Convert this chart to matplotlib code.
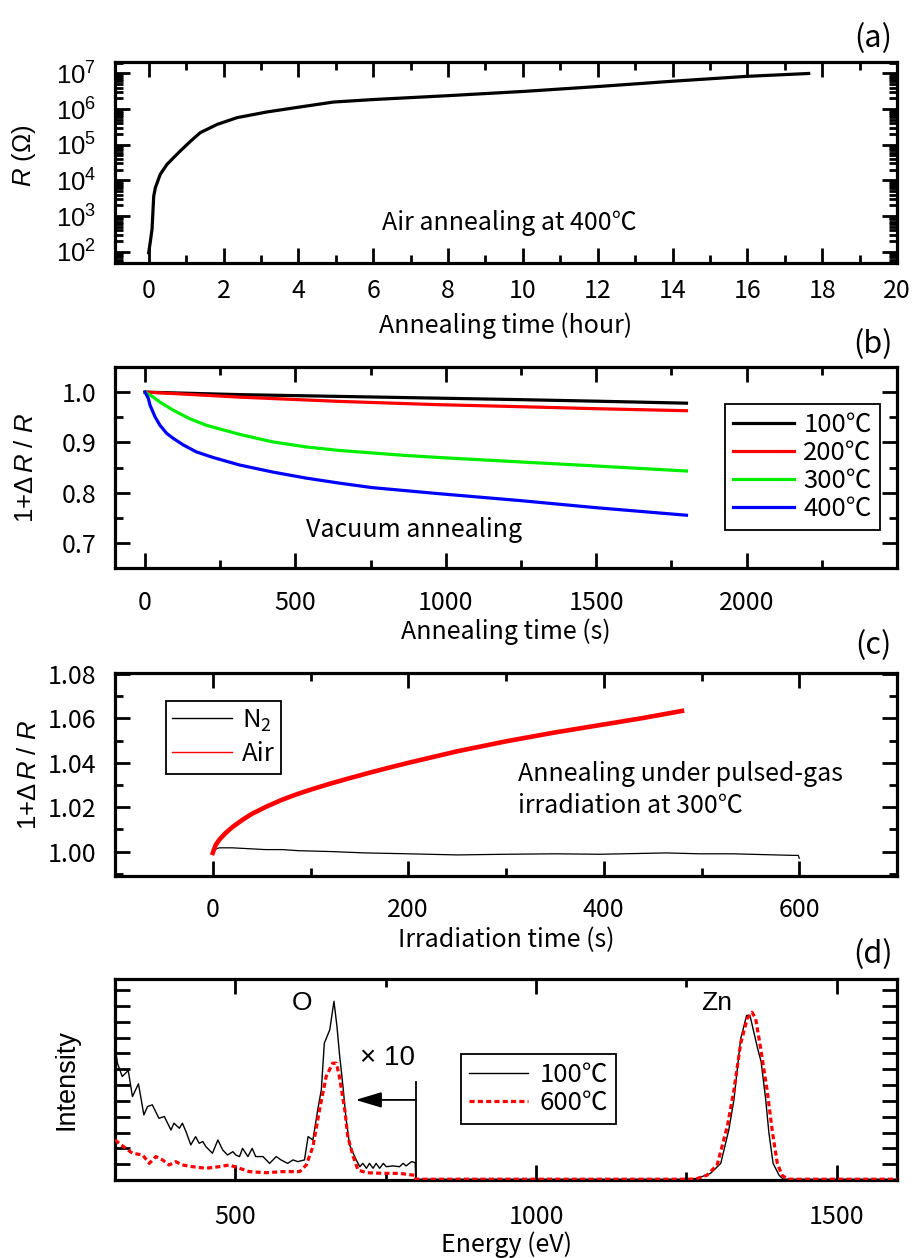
import math
import matplotlib
matplotlib.use('Agg')
import matplotlib.pyplot as plt
from matplotlib.ticker import MultipleLocator, FixedLocator, FuncFormatter, NullFormatter, LogLocator
from matplotlib.lines import Line2D

plt.rcParams['font.family'] = ['Noto Sans CJK JP', 'DejaVu Sans']
plt.rcParams['mathtext.fontset'] = 'custom'
plt.rcParams['mathtext.rm'] = 'Liberation Sans'
plt.rcParams['mathtext.it'] = 'Liberation Sans:italic'
plt.rcParams['mathtext.bf'] = 'Liberation Sans:bold'
plt.rcParams['axes.unicode_minus'] = False

# ---------------- data ----------------
# (a) air annealing at 400 C
a_hours = [0.0, 0.04, 0.09, 0.135, 0.18, 0.31, 0.49, 0.8, 1.12, 1.38, 1.83, 2.36,
           3.16, 4.05, 4.94, 6.02, 8.05, 10.07, 12.1, 13.97, 16.0, 17.64]
a_resistance = [93, 178, 427, 3630, 6310, 14800, 28200, 60300, 126000, 219000,
                372000, 575000, 832000, 1150000, 1580000, 1860000, 2400000,
                3160000, 4370000, 6030000, 8320000, 1.0e7]

# (b) vacuum annealing
b_t_100C = [0, 314, 644.6, 975, 1250, 1500, 1800]
b_100C = [1.0, 0.995, 0.9915, 0.988, 0.985, 0.982, 0.978]
b_t_200C = [0, 100, 314, 644.6, 975, 1250, 1500, 1800]
b_200C = [1.0, 0.997, 0.990, 0.9816, 0.975, 0.971, 0.967, 0.963]
b_t_300C = [0, 27.5, 49.6, 93.7, 148.8, 204, 314, 424, 534.5, 644.6, 754.7, 865,
            975, 1250, 1500, 1800]
b_300C = [1.0, 0.990, 0.980, 0.964, 0.947, 0.934, 0.916, 0.901, 0.891, 0.884,
          0.879, 0.874, 0.870, 0.861, 0.853, 0.843]
b_t_400C = [0, 11, 16.5, 33, 49.6, 71.7, 93.7, 126.7, 170.8, 225.8, 314, 424,
            534.5, 644.6, 754.7, 865, 975, 1250, 1500, 1800]
b_400C = [1.0, 0.987, 0.974, 0.951, 0.934, 0.918, 0.908, 0.895, 0.881, 0.870,
          0.855, 0.841, 0.829, 0.819, 0.810, 0.804, 0.798, 0.784, 0.770, 0.755]
b_labels = ['100℃', '200℃', '300℃', '400℃']
b_colors = ['#000000', '#ff0000', '#00ee00', '#0000ff']

# (c) pulsed-gas irradiation at 300 C
c_air_time = [0, 3, 7, 13, 20, 30, 40, 55, 70, 85, 100, 120, 140, 160, 180, 200,
              250, 300, 350, 400, 440, 480]
c_air = [0.9994, 1.0030, 1.0055, 1.0083, 1.0110, 1.0142, 1.0170, 1.0203, 1.0232,
         1.0257, 1.0279, 1.0306, 1.0331, 1.0355, 1.0378, 1.0400, 1.0452, 1.0497,
         1.0537, 1.0573, 1.0602, 1.0634]
c_n2_time = [0, 3.3, 6.7, 20, 37, 54, 71, 88, 105, 122, 139, 156, 190, 250, 300,
             350, 396, 430, 464, 498, 532, 567, 594, 599, 600]
c_n2 = [0.9994, 1.0012, 1.0017, 1.0017, 1.0013, 1.0009, 1.0009, 1.0004, 1.0002,
        1.0, 0.9997, 0.9994, 0.9991, 0.9985, 0.9988, 0.999, 0.9988, 0.9991,
        0.9994, 0.999, 0.999, 0.9986, 0.9983, 0.9983, 0.997]

# (d) spectra (below 800 eV magnified x10)
d_E_100 = [300, 304, 312, 322, 329, 339, 348, 354, 362, 373, 382, 393, 398, 407,
           412, 418, 426, 434, 440, 446, 451, 462, 471, 479, 487, 496, 501, 507,
           512, 521, 528, 534, 546, 557, 568, 576, 587, 596, 604, 615, 621, 629,
           637, 643, 648, 657, 664, 669, 673, 679, 684, 690, 696, 701, 707, 712,
           718, 723, 729, 734, 740, 746, 751, 762, 773, 779, 784, 793, 799,
           800, 1250, 1268, 1290, 1307, 1320.6, 1329, 1340, 1350, 1355.6, 1361,
           1369, 1374, 1381.7, 1387, 1394, 1404, 1411, 1430, 1600]
d_I_100 = [8.44, 7.38, 6.54, 6.92, 5.27, 6.08, 4.11, 4.64, 4.75, 3.90, 4.01, 3.16,
           3.59, 3.27, 3.59, 3.06, 2.22, 2.74, 2.32, 2.43, 2.11, 1.69, 2.53, 1.90,
           1.58, 1.79, 1.58, 1.48, 2.00, 1.48, 2.00, 1.48, 1.48, 1.05, 1.48, 1.27,
           1.05, 1.27, 1.16, 1.27, 2.74, 2.53, 4.43, 5.70, 8.65, 9.49, 11.29, 9.70,
           8.02, 5.91, 3.90, 2.22, 1.69, 1.27, 0.84, 1.05, 0.74, 1.05, 0.74, 1.05,
           0.74, 1.05, 0.84, 0.89, 0.84, 1.05, 0.89, 1.16, 1.10,
           0.05, 0.05, 0.1, 0.42, 1.05, 3.2, 5.1, 8.9, 10.4, 10.4, 9.5, 8.2, 7.5,
           5.1, 3.0, 1.05, 0.3, 0.05, 0.05, 0.05]
d_E_600 = [300, 307, 318, 329, 346, 357, 368, 379, 390, 401, 412, 429, 451, 473,
           490, 507, 523, 551, 579, 607, 618, 629, 640, 651, 662, 668, 673, 682,
           687, 696, 704, 718, 746, 773, 793, 799,
           800, 1250, 1265, 1284, 1301, 1318, 1329, 1340, 1351, 1359, 1365, 1373,
           1384, 1393, 1401, 1409, 1418, 1600]
d_I_600 = [2.53, 2.32, 2.00, 1.69, 1.58, 1.05, 1.48, 1.27, 0.95, 1.16, 0.95, 0.84,
           0.74, 0.84, 0.95, 0.74, 0.53, 0.46, 0.53, 0.53, 0.95, 2.11, 4.43, 6.54,
           7.38, 7.38, 6.54, 4.43, 2.74, 1.48, 0.63, 0.46, 0.42, 0.42, 0.32, 0.3,
           0.05, 0.05, 0.06, 0.3, 0.95, 3.4, 5.7, 8.6, 10.2, 10.6, 10.2, 8.4, 5.7,
           3.0, 1.05, 0.3, 0.05, 0.05]
d_labels = ['100℃', '600℃']
d_mag_edge = 800      # energy where x10 magnification ends
d_mag_top = 6.2
d_arrow_y = 5.06
d_arrow_tip = 700

# ---------------- figure ----------------
W, H = 913, 1258
fig = plt.figure(figsize=(W / 100, H / 100), dpi=100)


def add_ax(top, bottom, left=115, right=897):
    return fig.add_axes([left / W, 1 - bottom / H, (right - left) / W, (bottom - top) / H])


ax_a = add_ax(62, 263)
ax_b = add_ax(367, 568)
ax_c = add_ax(673, 876)
ax_d = add_ax(979, 1180)

FS = 18
SANS = ['Liberation Sans', 'DejaVu Sans']

for ax in (ax_a, ax_b, ax_c, ax_d):
    for s in ax.spines.values():
        s.set_linewidth(2.3)
    ax.tick_params(which='both', direction='in', top=True, right=True, width=2.0,
                   labelsize=FS)
    ax.tick_params(which='major', length=11)
    ax.tick_params(which='minor', length=5.5)
    ax.tick_params(axis='y', pad=13.5)


def set_xlabel(ax, text, y_px_below, height_px):
    ax.set_xlabel(text, fontsize=FS)
    ax.xaxis.set_label_coords(0.5, -y_px_below / height_px)
    ax.xaxis.label.set_va('center')


def set_ylabel(ax, text, x_px, y_frac=0.5, **kw):
    ax.set_ylabel(text, **kw)
    ax.yaxis.set_label_coords((x_px - 115) / 782, y_frac)
    ax.yaxis.label.set_va('center')
    ax.yaxis.label.set_ha('center')


# (a)
ax_a.plot(a_hours, a_resistance, color='k', lw=2.3)
ax_a.set_yscale('log')
ax_a.set_xlim(-0.9, 20)
ax_a.set_ylim(48, 2.1e7)
ax_a.xaxis.set_major_locator(MultipleLocator(2))
ax_a.xaxis.set_minor_locator(MultipleLocator(1))
ax_a.yaxis.set_major_locator(FixedLocator([1e2, 1e3, 1e4, 1e5, 1e6, 1e7]))
ax_a.yaxis.set_major_formatter(FuncFormatter(
    lambda v, p: r'$\mathregular{10^{%d}}$' % round(math.log10(v))))
ax_a.yaxis.set_minor_locator(LogLocator(base=10, subs=range(2, 10), numticks=20))
ax_a.yaxis.set_minor_formatter(NullFormatter())
ax_a.tick_params(axis='y', labelfontfamily='Liberation Sans', labelsize=18.5)
ax_a.tick_params(axis='x', pad=11)
set_xlabel(ax_a, 'Annealing time (hour)', 63, 201)
set_ylabel(ax_a, r'$\mathit{R}$ (Ω)', 24, 0.535, family=SANS, fontsize=18.5)
ax_a.text(0.504, 0.199, 'Air annealing at 400℃', transform=ax_a.transAxes,
          ha='center', va='center', fontsize=FS)

# (b)
for tt, vals, lab, col in zip([b_t_100C, b_t_200C, b_t_300C, b_t_400C],
                              [b_100C, b_200C, b_300C, b_400C], b_labels, b_colors):
    ax_b.plot(tt, vals, color=col, lw=2.3, label=lab)
ax_b.set_xlim(-100, 2500)
ax_b.set_ylim(0.65, 1.05)
ax_b.xaxis.set_major_locator(FixedLocator([0, 500, 1000, 1500, 2000]))
ax_b.xaxis.set_minor_locator(FixedLocator([250, 750, 1250, 1750, 2250]))
ax_b.yaxis.set_major_locator(MultipleLocator(0.1))
ax_b.yaxis.set_minor_locator(MultipleLocator(0.05))
ax_b.yaxis.set_major_formatter(FuncFormatter(lambda v, p: '%.1f' % v))
ax_b.tick_params(axis='x', pad=16)
set_xlabel(ax_b, 'Annealing time (s)', 64, 201)
set_ylabel(ax_b, r'1+$\mathit{\Delta\,R}$ / $\mathit{R}$', 26, 0.5, family=SANS, fontsize=18.5)
ax_b.text(0.382, 0.189, 'Vacuum annealing', transform=ax_b.transAxes,
          ha='center', va='center', fontsize=FS)
leg_b = ax_b.legend(loc='upper left', bbox_to_anchor=((725 - 115) / 782, (568 - 404) / 201),
                    borderaxespad=0, fontsize=18.5, handlelength=2.4, handletextpad=0.35,
                    labelspacing=0.08, borderpad=0.3, fancybox=False, framealpha=1,
                    edgecolor='k')
leg_b.get_frame().set_linewidth(1.3)

# (c)
ax_c.plot(c_n2_time, c_n2, color='k', lw=0.9, label='N$\\mathregular{_2}$')
ax_c.plot(c_air_time, c_air, color='#ff0000', lw=3.3, label='Air')
ax_c.set_xlim(-100, 700)
ax_c.set_ylim(0.989, 1.0805)
ax_c.xaxis.set_major_locator(MultipleLocator(200))
ax_c.xaxis.set_minor_locator(MultipleLocator(100))
ax_c.yaxis.set_major_locator(MultipleLocator(0.02))
ax_c.yaxis.set_minor_locator(MultipleLocator(0.01))
ax_c.yaxis.set_major_formatter(FuncFormatter(lambda v, p: '%.2f' % v))
ax_c.tick_params(axis='x', pad=15)
set_xlabel(ax_c, 'Irradiation time (s)', 64, 203)
set_ylabel(ax_c, r'1+$\mathit{\Delta\,R}$ / $\mathit{R}$', 29, 0.5, family=SANS, fontsize=18.5)
ax_c.text(0.515, 0.502, 'Annealing under pulsed-gas', transform=ax_c.transAxes,
          ha='left', va='center', fontsize=FS)
ax_c.text(0.515, 0.345, 'irradiation at 300℃', transform=ax_c.transAxes,
          ha='left', va='center', fontsize=FS)
handles_c = [Line2D([], [], color='k', lw=1.0), Line2D([], [], color='#ff0000', lw=1.0)]
leg_c = ax_c.legend(handles_c, ['N$\\mathregular{_2}$', 'Air'], loc='upper left',
                    bbox_to_anchor=((166 - 115) / 782, (876 - 701) / 203),
                    borderaxespad=0, fontsize=18.5, handlelength=2.3, handletextpad=0.4,
                    labelspacing=0.3, borderpad=0.25, fancybox=False, framealpha=1,
                    edgecolor='k')
leg_c.get_frame().set_linewidth(1.3)

# (d)
ax_d.plot(d_E_100, d_I_100, color='k', lw=1.0, label=d_labels[0], zorder=3)
ax_d.plot(d_E_600, d_I_600, color='#ff0000', lw=2.3, ls=(0, (1.6, 1.0)),
          label=d_labels[1], zorder=3)
ax_d.set_xlim(300, 1600)
ax_d.set_ylim(0, 12.7)
ax_d.xaxis.set_major_locator(MultipleLocator(500))
ax_d.xaxis.set_minor_locator(MultipleLocator(250))
ax_d.yaxis.set_major_locator(MultipleLocator(1))
ax_d.yaxis.set_major_formatter(NullFormatter())
ax_d.tick_params(axis='x', pad=17)
set_xlabel(ax_d, 'Energy (eV)', 65, 201)
set_ylabel(ax_d, 'Intensity', 67, 0.5, family=SANS, fontsize=19.5)
ax_d.plot([d_mag_edge, d_mag_edge], [0, d_mag_top], color='k', lw=1.3)
ax_d.annotate('', xy=(d_arrow_tip, d_arrow_y), xytext=(d_mag_edge, d_arrow_y),
              arrowprops=dict(arrowstyle='-|>,head_length=1.0,head_width=0.3',
                              lw=1.3, color='k', mutation_scale=16,
                              shrinkA=0, shrinkB=0))
ax_d.text(0.349, 0.607, '× 10', transform=ax_d.transAxes, ha='center', va='center',
          fontsize=20, family=SANS)
ax_d.text(0.239, 0.881, 'O', transform=ax_d.transAxes, ha='center', va='center',
          fontsize=19, family=SANS)
ax_d.text(0.769, 0.881, 'Zn', transform=ax_d.transAxes, ha='center', va='center',
          fontsize=19, family=SANS)
leg_d = ax_d.legend(loc='upper left', bbox_to_anchor=((461 - 115) / 782, (1180 - 1054) / 201),
                    borderaxespad=0, fontsize=18.5, handlelength=2.3, handletextpad=0.45,
                    labelspacing=0.1, borderpad=0.3, fancybox=False, framealpha=1,
                    edgecolor='k')
leg_d.get_frame().set_linewidth(1.3)

# panel letters
for lab, y in zip(['(a)', '(b)', '(c)', '(d)'], [39, 345, 646, 955]):
    fig.text(873 / W, 1 - y / H, lab, ha='center', va='center', fontsize=22)

fig.savefig('out.png', dpi=100)
